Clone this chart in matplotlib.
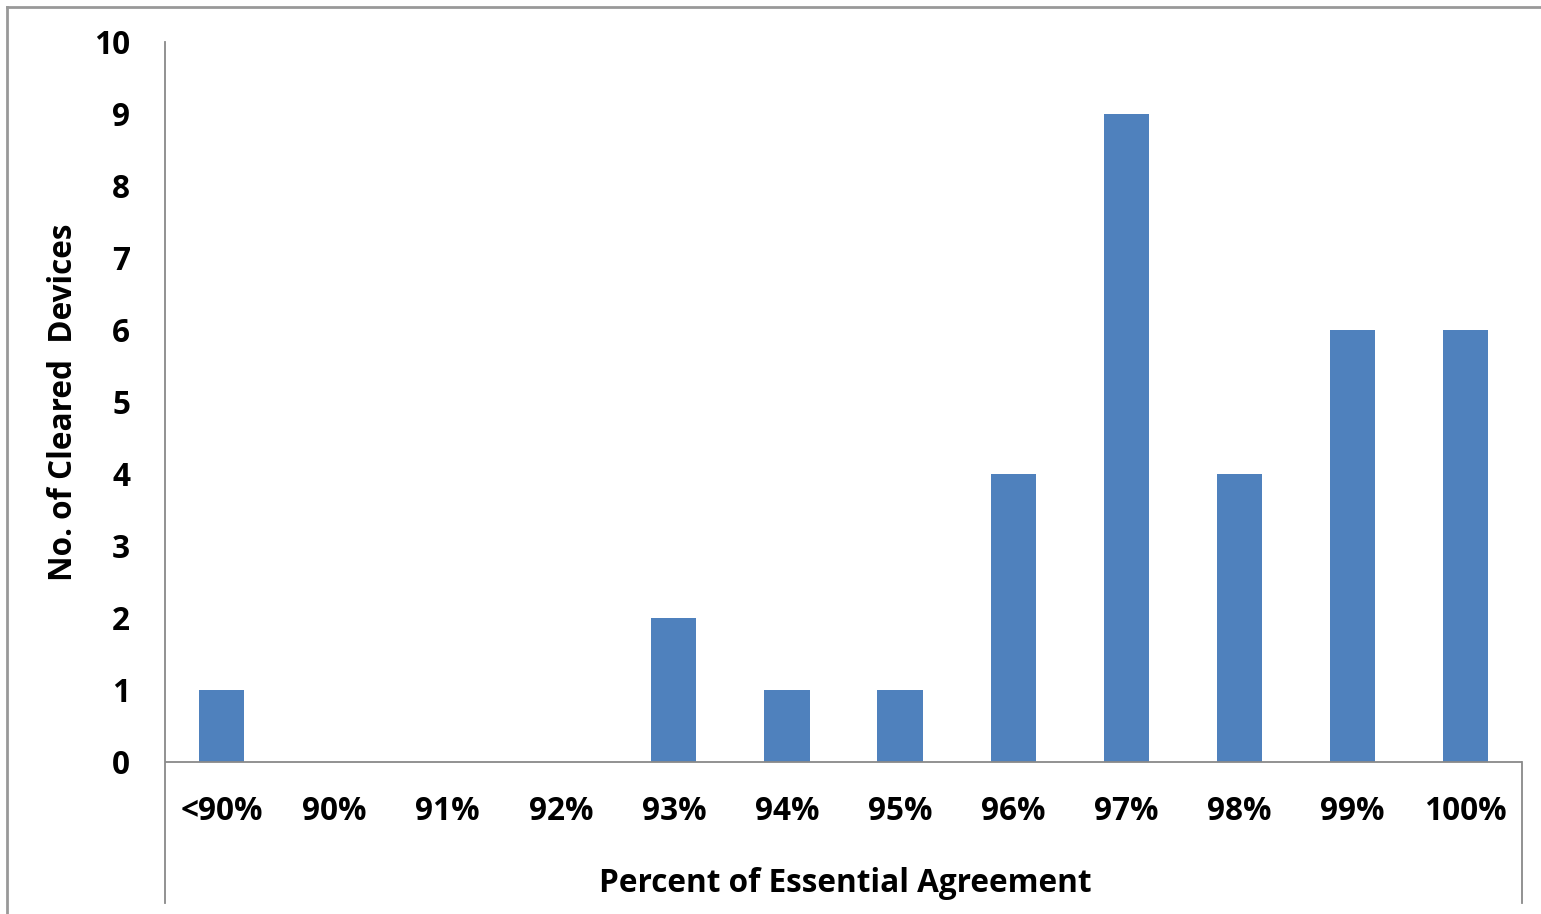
import matplotlib
matplotlib.use("Agg")
import matplotlib.pyplot as plt
from matplotlib.lines import Line2D

# data
categories = ['<90%', '90%', '91%', '92%', '93%', '94%', '95%',
              '96%', '97%', '98%', '99%', '100%']
devices = [1, 0, 0, 0, 2, 1, 1, 4, 9, 4, 6, 6]
y_ticks = list(range(0, 11))

BAR_COLOR = '#4F81BD'
AXIS_COLOR = '#898989'

plt.rcParams['font.family'] = ['Open Sans', 'DejaVu Sans']
plt.rcParams['font.weight'] = 'bold'
FS = 22.7

W, H = 1541, 914
fig = plt.figure(figsize=(W / 100, H / 100), dpi=100)
fig.patch.set_facecolor('white')

# plot area: x from 165 to 1522 px, y from 42 (value 10) to 903 px
left, right = 165, 1522
top, bottom = 42, 903
ax = fig.add_axes([left / W, 1 - bottom / H, (right - left) / W, (bottom - top) / H])
px_per_unit = (762 - top) / 10.0
ymin = -(bottom - 762) / px_per_unit
ax.set_ylim(ymin, 10)
ax.set_xlim(-0.5, len(categories) - 0.5)

x = list(range(len(categories)))
ax.bar(x, devices, width=0.4, color=BAR_COLOR, zorder=2)

# axis lines
for s in ['top', 'bottom']:
    ax.spines[s].set_visible(False)
ax.spines['left'].set_color(AXIS_COLOR)
ax.spines['left'].set_linewidth(1.3)
ax.spines['right'].set_color(AXIS_COLOR)
ax.spines['right'].set_linewidth(1.3)
ax.spines['right'].set_bounds(ymin, 0)
ax.axhline(0, color=AXIS_COLOR, lw=1.3, zorder=3)

ax.set_yticks(y_ticks)
ax.set_yticklabels([str(v) for v in y_ticks], fontsize=FS, fontweight='bold')
ax.tick_params(axis='y', length=0, pad=25)
ax.set_xticks([])

# category labels under the zero line
for xi, lab in zip(x, categories):
    ax.text(xi, -(812 - 762) / px_per_unit, lab, ha='center', va='center',
            fontsize=FS, fontweight='bold')

fig.text((602 + 1088) / 2 / W, 1 - 884 / H, 'Percent of Essential Agreement',
         ha='center', va='center', fontsize=FS, fontweight='bold')
fig.text(64 / W, 1 - 402 / H, 'No. of Cleared  Devices', rotation=90,
         ha='center', va='center', fontsize=FS, fontweight='bold')

# outer frame lines
fig.add_artist(Line2D([6.5 / W, 1], [1 - 6.5 / H, 1 - 6.5 / H],
                      transform=fig.transFigure, color='#999999', lw=2))
fig.add_artist(Line2D([6.5 / W, 6.5 / W], [0, 1 - 6.5 / H],
                      transform=fig.transFigure, color='#999999', lw=2))

fig.savefig('out.png', dpi=100)
